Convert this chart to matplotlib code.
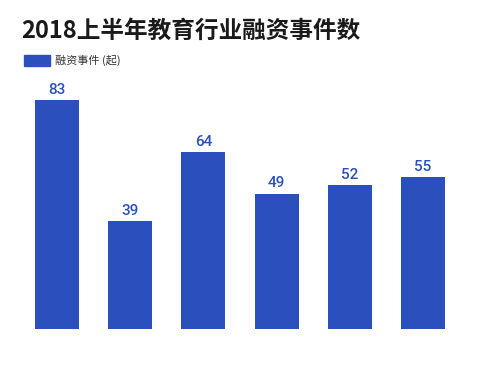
import matplotlib
matplotlib.use('Agg')
import matplotlib.pyplot as plt
from matplotlib.patches import Rectangle

plt.rcParams['font.family'] = ['Noto Sans CJK SC', 'DejaVu Sans']

# data
categories = ['1', '2', '3', '4', '5', '6']
values = [83, 39, 64, 49, 52, 55]
title = '2018上半年教育行业融资事件数'
series_name = '融资事件 (起)'

blue = '#2B50BE'
W, H = 480, 373

fig = plt.figure(figsize=(W / 100, H / 100), dpi=100)
ax = fig.add_axes([20.4 / W, 44 / H, 439.2 / W, 249 / H])

x = range(len(values))
bars = ax.bar(x, values, width=0.6, color=blue)
for xi, v in zip(x, values):
    ax.text(xi, v + 1.2, str(v), ha='center', va='bottom', color=blue,
            fontsize=11, family=['Roboto', 'DejaVu Sans'], fontweight='medium')

ax.set_xlim(-0.5, len(values) - 0.5)
ax.set_ylim(0, 90.2)
ax.axis('off')

fig.text(21 / W, 1 - 31 / H, title, fontsize=17, fontweight='bold',
         color='#1a1a1a', va='center', ha='left')
fig.patches.append(Rectangle((24 / W, 1 - 66 / H), 26 / W, 11 / H,
                             transform=fig.transFigure, color=blue))
fig.text(55 / W, 1 - 60.5 / H, series_name, fontsize=8, color='#333333',
         va='center', ha='left')

fig.savefig('out.png', dpi=100)
